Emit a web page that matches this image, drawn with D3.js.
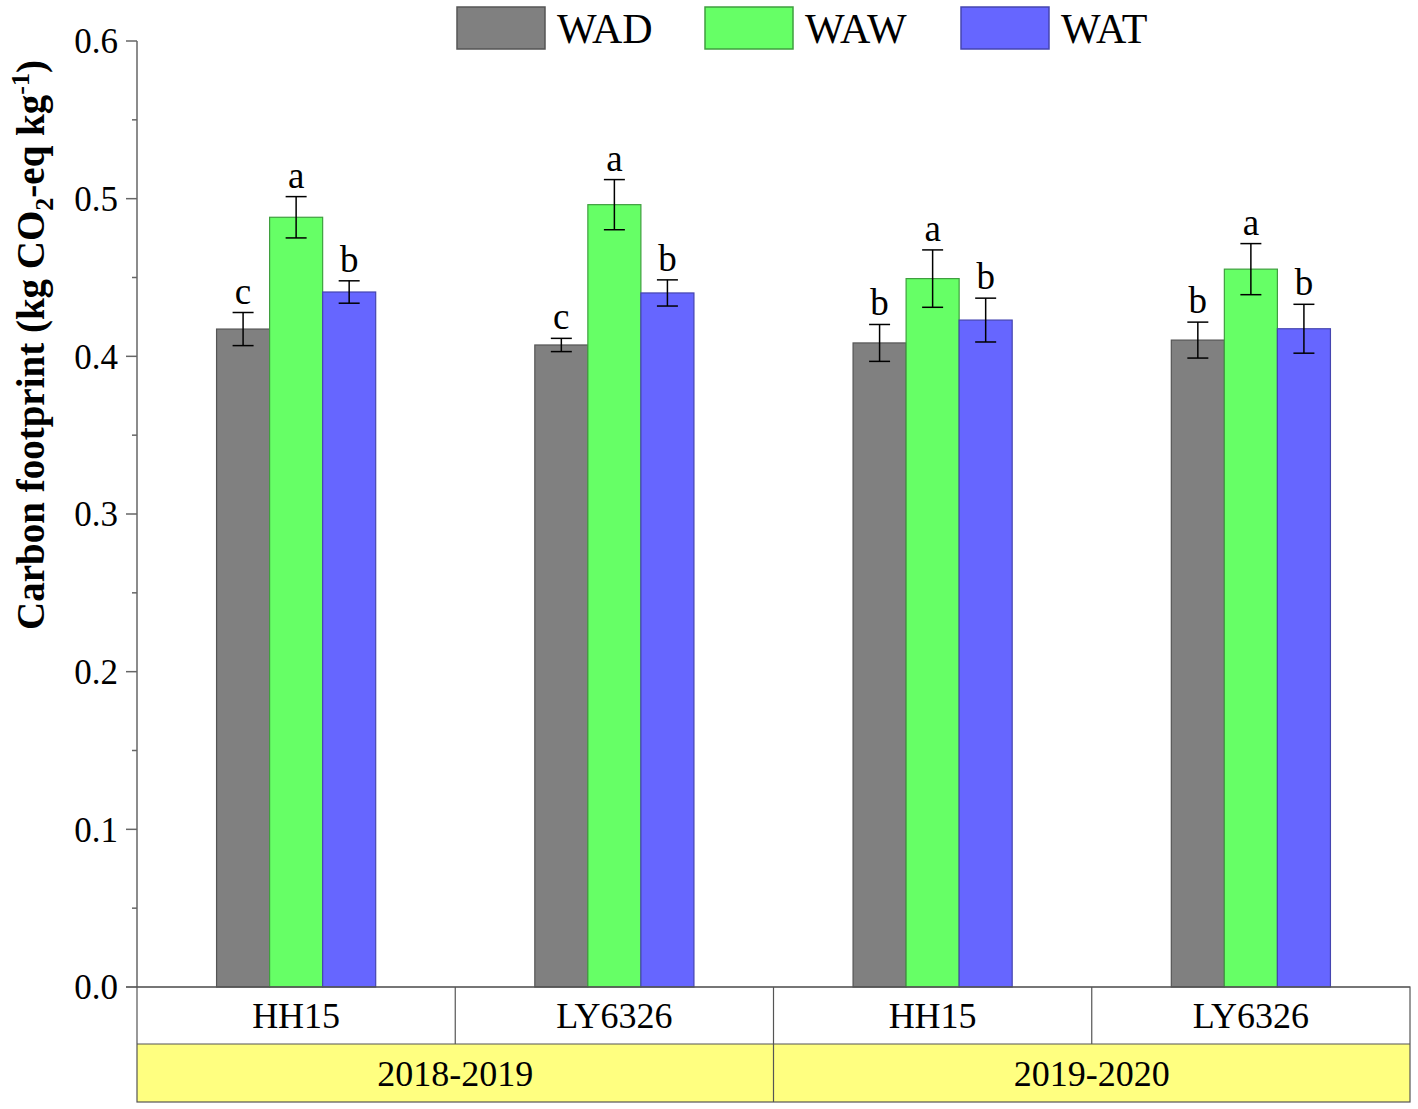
<!DOCTYPE html>
<html><head><meta charset="utf-8">
<script src="https://cdn.jsdelivr.net/npm/d3@7"></script>
<style>
html,body{margin:0;padding:0;background:#fff;}
svg{display:block;font-family:"Liberation Serif","Times New Roman",serif;}
</style></head>
<body>
<svg id="chart" width="1418" height="1109"></svg>
<script>
const cultivars = ["HH15", "LY6326", "HH15", "LY6326"];
const seasons = ["2018-2019", "2019-2020"];
const seriesNames = ["WAD", "WAW", "WAT"];
const seriesColors = ["#808080", "#66FF66", "#6666FF"];
const seriesStrokes = ["#555555", "#3f9f3f", "#4545b0"];
const WAD = [0.4173, 0.4072, 0.4085, 0.4103];
const WAW = [0.4882, 0.4962, 0.4493, 0.4553];
const WAT = [0.4408, 0.4402, 0.4230, 0.4175];
const WAD_err = [0.0105, 0.0042, 0.0117, 0.0114];
const WAW_err = [0.0131, 0.0159, 0.0182, 0.0162];
const WAT_err = [0.0071, 0.0083, 0.0139, 0.0155];
const WAD_sig = ["c", "c", "b", "b"];
const WAW_sig = ["a", "a", "a", "a"];
const WAT_sig = ["b", "b", "b", "b"];
const yTicks = [0, 0.1, 0.2, 0.3, 0.4, 0.5, 0.6];

(function () {
const values = [WAD, WAW, WAT];
const errs = [WAD_err, WAW_err, WAT_err];
const sigs = [WAD_sig, WAW_sig, WAT_sig];

const svg = d3.select("#chart");
const mLeft = 137, mRight = 1410, mTop = 41, mBottom = 987;

const y = d3.scaleLinear().domain([0, 0.6]).range([mBottom, mTop]);
const idx = cultivars.map((c, i) => i);
const x0 = d3.scaleBand().domain(idx).range([mLeft, mRight]).padding(0);
const x1 = d3.scaleBand().domain(seriesNames).range([x0.bandwidth() * 0.25, x0.bandwidth() * 0.75]).padding(0);

const data = [];
idx.forEach(i => seriesNames.forEach((s, k) => {
  data.push({i, s, k, v: values[k][i], e: errs[k][i], sig: sigs[k][i]});
}));

const g = svg.append("g");
g.selectAll("rect.bar").data(data).join("rect")
  .attr("class", "bar")
  .attr("x", d => x0(d.i) + x1(d.s))
  .attr("y", d => y(d.v))
  .attr("width", x1.bandwidth())
  .attr("height", d => y(0) - y(d.v))
  .attr("fill", d => seriesColors[d.k])
  .attr("stroke", d => seriesStrokes[d.k])
  .attr("stroke-width", 1.2);

const cx = d => x0(d.i) + x1(d.s) + x1.bandwidth() / 2;
const cap = 10.5;
const eg = g.selectAll("g.err").data(data).join("g").attr("class", "err")
  .attr("stroke", "#000").attr("stroke-width", 1.5);
eg.append("line")
  .attr("x1", cx).attr("x2", cx)
  .attr("y1", d => y(d.v - d.e)).attr("y2", d => y(d.v + d.e));
eg.append("line")
  .attr("x1", d => cx(d) - cap).attr("x2", d => cx(d) + cap)
  .attr("y1", d => y(d.v + d.e)).attr("y2", d => y(d.v + d.e));
eg.append("line")
  .attr("x1", d => cx(d) - cap).attr("x2", d => cx(d) + cap)
  .attr("y1", d => y(d.v - d.e)).attr("y2", d => y(d.v - d.e));

g.selectAll("text.sig").data(data).join("text")
  .attr("class", "sig")
  .attr("x", cx)
  .attr("y", d => y(d.v + d.e) - 9)
  .attr("text-anchor", "middle")
  .attr("font-size", 37)
  .attr("fill", "#000")
  .text(d => d.sig);

// y axis
const yMinor = [0.05, 0.15, 0.25, 0.35, 0.45, 0.55];
const axisColor = "#666";
const ax = svg.append("g").attr("transform", `translate(${mLeft},0)`);
ax.append("line").attr("x1", 0).attr("x2", 0).attr("y1", y(0.6)).attr("y2", y(0))
  .attr("stroke", axisColor).attr("stroke-width", 1.5);
ax.selectAll("line.maj").data(yTicks).join("line").attr("class", "maj")
  .attr("x1", -11).attr("x2", 0).attr("y1", d => y(d)).attr("y2", d => y(d))
  .attr("stroke", axisColor).attr("stroke-width", 1.5);
ax.selectAll("line.min").data(yMinor).join("line").attr("class", "min")
  .attr("x1", -5).attr("x2", 0).attr("y1", d => y(d)).attr("y2", d => y(d))
  .attr("stroke", axisColor).attr("stroke-width", 1.5);
ax.selectAll("text.tl").data(yTicks).join("text").attr("class", "tl")
  .attr("x", -19).attr("y", d => y(d)).attr("dy", "0.35em")
  .attr("text-anchor", "end").attr("font-size", 35).attr("fill", "#000")
  .text(d => d3.format(".1f")(d));

// y title
const yt = svg.append("text")
  .attr("transform", `translate(44,345) rotate(-90)`)
  .attr("text-anchor", "middle").attr("font-size", 39).attr("font-weight", "bold").attr("fill", "#000");
yt.append("tspan").text("Carbon footprint (kg CO");
yt.append("tspan").attr("font-size", 26).attr("dy", 9).text("2");
yt.append("tspan").attr("dy", -9).text("-eq kg");
yt.append("tspan").attr("font-size", 26).attr("dy", -15).text("-1");
yt.append("tspan").attr("dy", 15).text(")");

// bottom table
const row1Top = mBottom, row1Bot = 1044, row2Bot = 1102;
const tg = svg.append("g");
tg.append("rect").attr("x", mLeft).attr("y", row1Bot).attr("width", mRight - mLeft).attr("height", row2Bot - row1Bot)
  .attr("fill", "#FFFF80");
const seasonScale = d3.scaleBand().domain(seasons).range([mLeft, mRight]);
tg.selectAll("text.season").data(seasons).join("text").attr("class", "season")
  .attr("x", d => seasonScale(d) + seasonScale.bandwidth() / 2)
  .attr("y", (row1Bot + row2Bot) / 2).attr("dy", "0.35em")
  .attr("text-anchor", "middle").attr("font-size", 36).attr("fill", "#000").text(d => d);
tg.selectAll("text.cv").data(idx).join("text").attr("class", "cv")
  .attr("x", d => x0(d) + x0.bandwidth() / 2)
  .attr("y", (row1Top + row1Bot) / 2).attr("dy", "0.35em")
  .attr("text-anchor", "middle").attr("font-size", 36).attr("fill", "#000").text(d => cultivars[d]);
const bc = "#555";
tg.append("rect").attr("x", mLeft).attr("y", row1Top).attr("width", mRight - mLeft).attr("height", row2Bot - row1Top)
  .attr("fill", "none").attr("stroke", bc).attr("stroke-width", 1.2);
tg.append("line").attr("x1", mLeft).attr("x2", mRight).attr("y1", row1Bot).attr("y2", row1Bot).attr("stroke", bc).attr("stroke-width", 1.2);
tg.selectAll("line.cvdiv").data(idx.slice(1)).join("line").attr("class", "cvdiv")
  .attr("x1", d => x0(d)).attr("x2", d => x0(d)).attr("y1", row1Top).attr("y2", row1Bot)
  .attr("stroke", bc).attr("stroke-width", 1.2);
tg.selectAll("line.sdiv").data(seasons.slice(1)).join("line").attr("class", "sdiv")
  .attr("x1", d => seasonScale(d)).attr("x2", d => seasonScale(d)).attr("y1", row1Bot).attr("y2", row2Bot)
  .attr("stroke", bc).attr("stroke-width", 1.2);
tg.append("line").attr("x1", mLeft - 11).attr("x2", mRight).attr("y1", y(0)).attr("y2", y(0)).attr("stroke", bc).attr("stroke-width", 1.2);

// legend
const legX = [457, 705, 961];
const lg = svg.append("g");
seriesNames.forEach((s, k) => {
  lg.append("rect").attr("x", legX[k]).attr("y", 7).attr("width", 88).attr("height", 42)
    .attr("fill", seriesColors[k]).attr("stroke", seriesStrokes[k]).attr("stroke-width", 1.5);
  lg.append("text").attr("x", legX[k] + 100).attr("y", 43).attr("font-size", 42).attr("fill", "#000").text(s);
});
})();
</script>
</body></html>
